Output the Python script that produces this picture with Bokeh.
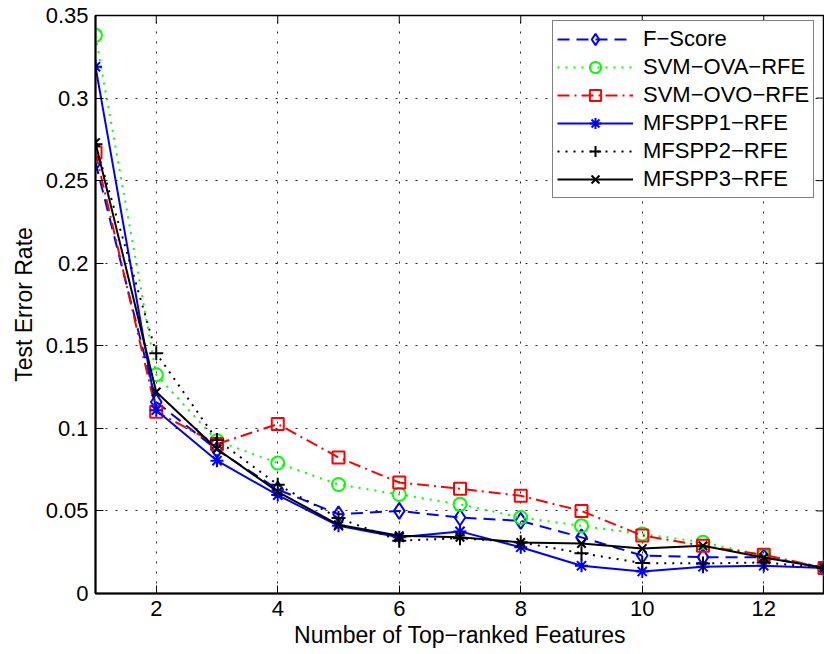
import math

from bokeh.plotting import figure
from bokeh.models import Legend, LegendItem, FixedTicker, Range1d
from bokeh.embed import file_html
from bokeh.resources import INLINE

# Number of top-ranked features used by the classifier
n_features = list(range(1, 14))

# Test error rate for each feature-ranking method
f_score = [0.261, 0.116, 0.087, 0.063, 0.048, 0.050, 0.046, 0.044, 0.034, 0.023, 0.022, 0.022, 0.0155]
svm_ova = [0.338, 0.1325, 0.0925, 0.079, 0.066, 0.060, 0.054, 0.046, 0.041, 0.036, 0.031, 0.023, 0.0155]
svm_ovo = [0.267, 0.110, 0.0905, 0.1026, 0.0824, 0.0672, 0.0634, 0.0592, 0.050, 0.0351, 0.0289, 0.0234, 0.0155]
mfspp1 = [0.319, 0.111, 0.0804, 0.0596, 0.041, 0.034, 0.0376, 0.028, 0.0168, 0.0133, 0.0162, 0.0168, 0.0155]
mfspp2 = [0.272, 0.1455, 0.093, 0.0659, 0.0457, 0.032, 0.0335, 0.031, 0.0244, 0.0184, 0.0182, 0.0188, 0.0155]
mfspp3 = [0.273, 0.122, 0.0875, 0.0616, 0.0416, 0.035, 0.0341, 0.0309, 0.0303, 0.0272, 0.0289, 0.0218, 0.0155]

series_names = ["F\u2212Score", "SVM\u2212OVA\u2212RFE", "SVM\u2212OVO\u2212RFE",
                "MFSPP1\u2212RFE", "MFSPP2\u2212RFE", "MFSPP3\u2212RFE"]

x_ticks = [2, 4, 6, 8, 10, 12]
x_tick_labels = ["2", "4", "6", "8", "10", "12"]
y_ticks = [0, 0.05, 0.1, 0.15, 0.2, 0.25, 0.3, 0.35]
y_tick_labels = ["0", "0.05", "0.1", "0.15", "0.2", "0.25", "0.3", "0.35"]

X_MIN, X_MAX = 1, 13
Y_MIN, Y_MAX = 0, 0.35

FONT = "Liberation Sans"

# (values, colour, dash, marker, marker size)
styles = [
    (f_score, "#0000ff", "12 7", "diamond", 16),
    (svm_ova, "#00ff00", "2 6", "circle", 13),
    (svm_ovo, "#ff0000", "12 5 2 5", "square", 12),
    (mfspp1, "#0000ff", "solid", "asterisk", 13),
    (mfspp2, "#000000", "2 6", "cross", 14),
    (mfspp3, "#000000", "solid", "x", 12),
]

p = figure(width=824, height=654,
           x_range=Range1d(X_MIN, X_MAX), y_range=Range1d(Y_MIN, Y_MAX),
           output_backend="svg", toolbar_location=None,
           min_border_left=95, min_border_right=0,
           min_border_top=15, min_border_bottom=61)
p.background_fill_color = "white"
p.border_fill_color = "white"
p.outline_line_color = "black"
p.outline_line_width = 1.5

# Axes: ticks pointing inward, MATLAB style
for ax in (p.xaxis[0], p.yaxis[0]):
    ax.major_tick_in = 8
    ax.major_tick_out = 0
    ax.minor_tick_line_color = None
    ax.axis_line_width = 2
    ax.axis_line_color = "black"
    ax.major_tick_line_color = "black"
    ax.major_tick_line_width = 1
    ax.major_label_text_font = FONT
    ax.major_label_text_font_size = "22px"
    ax.major_label_text_color = "black"
    ax.axis_label_text_font = FONT
    ax.axis_label_text_font_size = "23px"
    ax.axis_label_text_font_style = "normal"
    ax.axis_label_text_color = "black"
    ax.major_label_standoff = 7

p.xaxis.ticker = FixedTicker(ticks=x_ticks)
p.xaxis.major_label_overrides = dict(zip(x_ticks, x_tick_labels))
p.yaxis.ticker = FixedTicker(ticks=y_ticks)
p.yaxis.major_label_overrides = dict(zip(y_ticks, y_tick_labels))
p.xaxis.axis_label = "Number of Top\u2212ranked Features"
p.yaxis.axis_label = "Test Error Rate"
p.xaxis.axis_label_standoff = 3
p.yaxis.axis_label_standoff = 6

# Inward tick marks along the top and right edges of the box
# (half of each dash lies outside the frame and is clipped away)
p.scatter(x_ticks, [Y_MAX] * len(x_ticks), marker="dash", angle=math.pi / 2,
          size=16, line_color="black", line_width=1)
p.scatter([X_MAX] * len(y_ticks), y_ticks, marker="dash",
          size=16, line_color="black", line_width=1)

# Dotted grid
for g in (p.xgrid[0], p.ygrid[0]):
    g.grid_line_color = "black"
    g.grid_line_dash = "2 8"
    g.grid_line_width = 1
    g.grid_line_alpha = 0.85

items = []
for name, (vals, color, dash, marker, size) in zip(series_names, styles):
    line_r = p.line(n_features, vals, line_color=color, line_width=2, line_dash=dash)
    mark_r = p.scatter(n_features, vals, marker=marker, size=size,
                       line_color=color, line_width=2, fill_color=None)
    items.append(LegendItem(label=name, renderers=[line_r, mark_r]))

legend = Legend(items=items, location=(457, 395))
legend.label_text_font = FONT
legend.label_text_font_size = "22px"
legend.label_text_color = "black"
legend.glyph_width = 76
legend.glyph_height = 28
legend.label_height = 28
legend.label_standoff = 10
legend.spacing = 0
legend.padding = 4
legend.margin = 0
legend.border_line_color = "black"
legend.border_line_width = 1
legend.background_fill_color = "white"
legend.background_fill_alpha = 1
p.add_layout(legend)

open("out.html", "w").write(file_html(p, INLINE))
